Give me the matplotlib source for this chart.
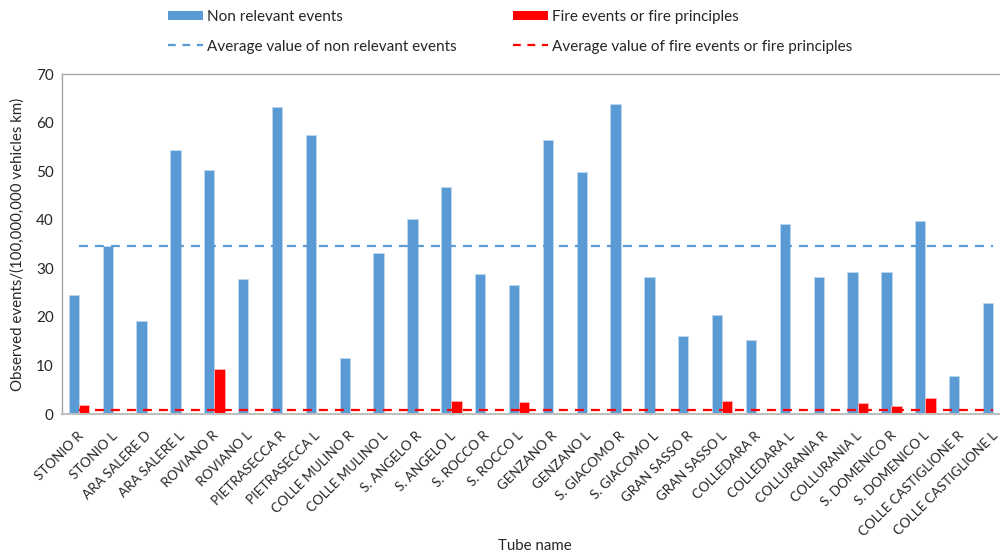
import numpy as np
import matplotlib
matplotlib.use("Agg")
import matplotlib.pyplot as plt
import matplotlib.transforms as mtrans
from matplotlib.lines import Line2D
from matplotlib.patches import Patch

plt.rcParams['font.family'] = ['Lato', 'DejaVu Sans']

tubes = ["STONIO R", "STONIO L", "ARA SALERE D", "ARA SALERE L", "ROVIANO R",
         "ROVIANO L", "PIETRASECCA R", "PIETRASECCA L", "COLLE MULINO R",
         "COLLE MULINO L", "S. ANGELO R", "S. ANGELO L", "S. ROCCO R", "S. ROCCO L",
         "GENZANO R", "GENZANO L", "S. GIACOMO R", "S. GIACOMO L", "GRAN SASSO R",
         "GRAN SASSO L", "COLLEDARA R", "COLLEDARA L", "COLLURANIA R",
         "COLLURANIA L", "S. DOMENICO R", "S. DOMENICO L", "COLLE CASTIGLIONE R",
         "COLLE CASTIGLIONE L"]

non_relevant = [24.6, 34.6, 19.2, 54.4, 50.2, 27.7, 63.2, 57.5, 11.6, 33.1,
                40.2, 46.7, 28.9, 26.6, 56.4, 49.9, 63.8, 28.3, 16.1, 20.4,
                15.2, 39.1, 28.3, 29.2, 29.2, 39.7, 7.9, 22.9]

fire_events = [1.85, 0, 0, 0, 9.3, 0, 0, 0, 0, 0,
               0, 2.75, 0, 2.5, 0, 0, 0, 0, 0, 2.75,
               0, 0, 0, 2.2, 1.65, 3.3, 0, 0]

avg_non_relevant = 34.6
avg_fire = 0.8

BLUE = "#5B9BD5"
RED = "#FF0000"
TEXT = "#262626"

fig = plt.figure(figsize=(10, 5.57), dpi=100)
# plot area extends slightly past the right edge of the canvas
ax = fig.add_axes([0.062, 1 - 414 / 557, 0.948, 340 / 557])

x = np.arange(len(tubes))
w = 0.3
ax.bar(x - w / 2, non_relevant, width=w, color=BLUE, edgecolor="#BDD7EE",
       linewidth=0.6, zorder=2)
ax.bar(x + w / 2, fire_events, width=w, color=RED, edgecolor="#FFB3B3",
       linewidth=0.6, zorder=2)
ax.plot([x[0], x[-1]], [avg_non_relevant] * 2, color=BLUE, lw=1.6,
        dashes=(4, 3.2), zorder=3)
ax.plot([x[0], x[-1]], [avg_fire] * 2, color=RED, lw=1.6,
        dashes=(4, 3.2), zorder=3)

ax.set_xlim(-0.5, len(tubes) - 0.5)
ax.set_ylim(0, 70)
ax.set_yticks(range(0, 71, 10))
ax.tick_params(axis='y', length=0, labelsize=11, colors=TEXT, pad=6)
ax.tick_params(axis='x', length=0, labelsize=9.6, colors=TEXT, pad=11)
ax.set_xticks(x)
ax.set_xticklabels(tubes, rotation=45, ha='right', va='top',
                   rotation_mode='anchor')
offset = mtrans.ScaledTranslation(-2 / 100, 0, fig.dpi_scale_trans)
for lab in ax.get_xticklabels():
    lab.set_transform(lab.get_transform() + offset)

for side in ['left', 'top']:
    ax.spines[side].set_color('#A6A6A6')
    ax.spines[side].set_linewidth(1.0)
ax.spines['bottom'].set_color('#BFBFBF')
ax.spines['bottom'].set_linewidth(1.5)
ax.spines['right'].set_visible(False)

ax.set_ylabel("Observed events/(100,000,000 vehicles km)", fontsize=10.8,
              color=TEXT, labelpad=8)
fig.text(0.535, 1 - 546 / 557, "Tube name", fontsize=10.8, color=TEXT,
         ha='center', va='center')

legend_kw = dict(loc='upper left', frameon=False, fontsize=11,
                 handlelength=2.3, handleheight=0.6, handletextpad=0.26,
                 labelspacing=1.02, borderpad=0, borderaxespad=0,
                 labelcolor=TEXT)
leg1 = fig.legend([Patch(facecolor=BLUE, edgecolor='none'),
                   Line2D([0], [0], color=BLUE, lw=1.6, dashes=(3.5, 3))],
                  ["Non relevant events", "Average value of non relevant events"],
                  bbox_to_anchor=(0.168, 1 - 10 / 557), **legend_kw)
leg2 = fig.legend([Patch(facecolor=RED, edgecolor='none'),
                   Line2D([0], [0], color=RED, lw=1.6, dashes=(3.5, 3))],
                  ["Fire events or fire principles",
                   "Average value of fire events or fire principles"],
                  bbox_to_anchor=(0.513, 1 - 10 / 557), **legend_kw)

fig.savefig("out.png", dpi=100, facecolor='white')
